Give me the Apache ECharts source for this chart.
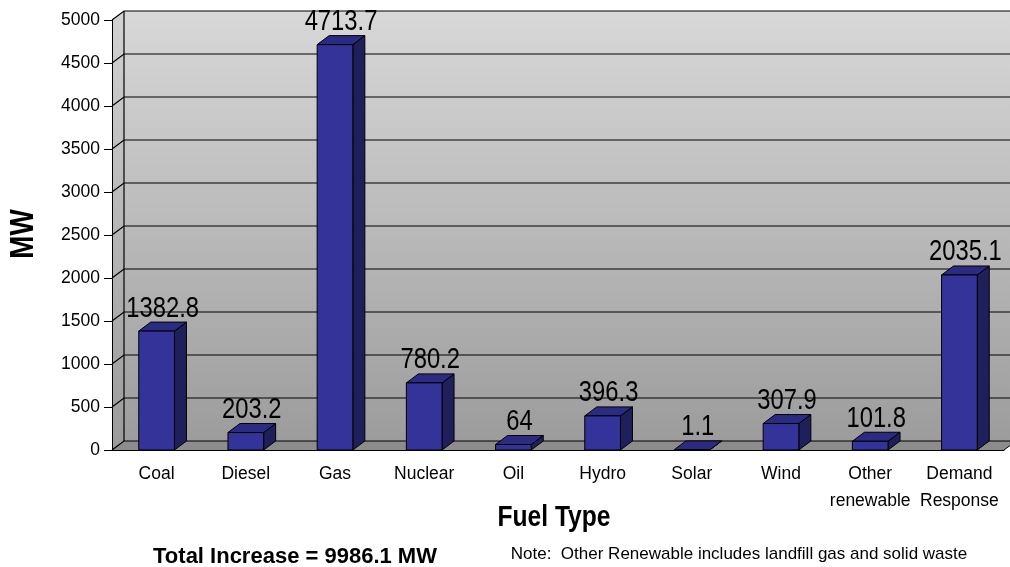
<!DOCTYPE html>
<html>
<head>
<meta charset="utf-8">
<script src="https://cdn.jsdelivr.net/npm/echarts@6/dist/echarts.min.js"></script>
<style>
  html, body { margin: 0; padding: 0; background: #fff; }
  #main { width: 1010px; height: 567px; }
</style>
</head>
<body>
<div id="main"></div>
<script>
// fuel types and capacity increase (MW)
const categories = ['Coal', 'Diesel', 'Gas', 'Nuclear', 'Oil', 'Hydro', 'Solar', 'Wind', 'Other\nrenewable', 'Demand\nResponse'];
const increaseMW = [1382.8, 203.2, 4713.7, 780.2, 64, 396.3, 1.1, 307.9, 101.8, 2035.1];
const yTicks = [0, 500, 1000, 1500, 2000, 2500, 3000, 3500, 4000, 4500, 5000];

const SANS = '"Liberation Sans", Arial, sans-serif';
const NARROW_X = 0.82; // squeeze Liberation Sans to look like Arial Narrow

// depth of the fake 3d box
const DX = 12, DY = -9;

const chart = echarts.init(document.getElementById('main'), null, { renderer: 'canvas' });

// walls, floor and gridlines
function renderFrame(params, api) {
  const cs = params.coordSys;
  const x = cs.x, y = cs.y, w = cs.width, h = cs.height;
  const children = [];
  children.push({
    type: 'rect',
    shape: { x: x + DX, y: y + DY, width: w, height: h },
    style: {
      fill: new echarts.graphic.LinearGradient(0, 0, 0, 1, [
        { offset: 0, color: '#d8d8d8' },
        { offset: 1, color: '#9c9c9c' }
      ])
    }
  });
  children.push({
    type: 'polygon',
    shape: { points: [[x, y], [x + DX, y + DY], [x + DX, y + h + DY], [x, y + h]] },
    style: {
      fill: new echarts.graphic.LinearGradient(0, 0, 0, 1, [
        { offset: 0, color: '#d2d2d2' },
        { offset: 1, color: '#9a9a9a' }
      ])
    }
  });
  children.push({
    type: 'polygon',
    shape: { points: [[x, y + h], [x + DX, y + h + DY], [x + w + DX, y + h + DY], [x + w, y + h]] },
    style: { fill: '#8c8c8c' }
  });
  yTicks.forEach(function (t) {
    const p = api.coord([0, t]);
    children.push({
      type: 'polyline',
      shape: { points: [[x, p[1]], [x + DX, p[1] + DY], [x + w + DX, p[1] + DY]] },
      style: { stroke: '#000', lineWidth: 1.2, fill: null }
    });
  });
  children.push({
    type: 'line',
    shape: { x1: x + DX, y1: y + DY, x2: x + DX, y2: y + h + DY },
    style: { stroke: '#000', lineWidth: 1.2 }
  });
  children.push({
    type: 'line',
    shape: { x1: x + w, y1: y + h, x2: x + w + DX, y2: y + h + DY },
    style: { stroke: '#000', lineWidth: 1 }
  });
  return { type: 'group', children: children };
}

function renderBar(params, api) {
  const idx = api.value(0);
  const v = api.value(1);
  const top = api.coord([idx, v]);
  const base = api.coord([idx, 0]);
  const band = api.size([1, 0])[0];
  const bw = band * 0.4;
  const x0 = top[0] - bw / 2, x1 = top[0] + bw / 2;
  const yT = top[1], yB = base[1];
  const edge = { stroke: '#000', lineWidth: 1, lineJoin: 'round' };
  return {
    type: 'group',
    children: [
      {
        type: 'polygon',
        shape: { points: [[x1, yT], [x1 + DX, yT + DY], [x1 + DX, yB + DY], [x1, yB]] },
        style: Object.assign({ fill: '#1f1f5c' }, edge)
      },
      {
        type: 'polygon',
        shape: { points: [[x0, yT], [x0 + DX, yT + DY], [x1 + DX, yT + DY], [x1, yT]] },
        style: Object.assign({ fill: '#2b2b82' }, edge)
      },
      {
        type: 'rect',
        shape: { x: x0, y: yT, width: bw, height: Math.max(yB - yT, 0.5) },
        style: Object.assign({ fill: '#333399' }, edge)
      },
      {
        type: 'text',
        x: top[0] + DX / 2,
        y: yT - 8,
        scaleX: NARROW_X,
        style: {
          text: String(v),
          font: '29px ' + SANS,
          fill: '#000',
          align: 'center',
          verticalAlign: 'bottom'
        }
      }
    ]
  };
}

const option = {
  animation: false,
  backgroundColor: '#fff',
  grid: { left: 112, right: 6, top: 20, bottom: 117 },
  xAxis: {
    type: 'category',
    data: categories,
    z: 5,
    axisLine: { lineStyle: { color: '#000', width: 1 } },
    axisTick: { length: 7, lineStyle: { color: '#000' } },
    axisLabel: {
      margin: 11,
      color: '#000',
      fontFamily: SANS,
      fontSize: 17.5,
      lineHeight: 27,
      interval: 0
    },
    splitLine: { show: false }
  },
  yAxis: {
    type: 'value',
    min: 0,
    max: 5000,
    interval: 500,
    z: 5,
    axisLine: { show: true, lineStyle: { color: '#000', width: 1 } },
    axisTick: { show: true, length: 8, lineStyle: { color: '#000' } },
    axisLabel: {
      margin: 12,
      color: '#000',
      fontFamily: SANS,
      fontSize: 17.5,
      formatter: function (v) { return String(v); }
    },
    splitLine: { show: false }
  },
  graphic: [
    {
      type: 'text', x: 24, y: 234, rotation: Math.PI / 2, scaleX: NARROW_X,
      style: { text: 'MW', font: 'bold 34px ' + SANS, fill: '#000', align: 'center', verticalAlign: 'middle' }
    },
    {
      type: 'text', x: 554, y: 518, scaleX: NARROW_X,
      style: { text: 'Fuel Type', font: 'bold 30px ' + SANS, fill: '#000', align: 'center', verticalAlign: 'middle' }
    },
    {
      type: 'text', x: 295, y: 557,
      style: { text: 'Total Increase = 9986.1 MW', font: 'bold 22px ' + SANS, fill: '#000', align: 'center', verticalAlign: 'middle' }
    },
    {
      type: 'text', x: 739, y: 554,
      style: { text: 'Note:  Other Renewable includes landfill gas and solid waste', font: '17px ' + SANS, fill: '#000', align: 'center', verticalAlign: 'middle' }
    }
  ],
  series: [
    {
      type: 'custom',
      name: 'frame',
      z: 1,
      silent: true,
      renderItem: renderFrame,
      data: [[0, 0]]
    },
    {
      type: 'custom',
      name: 'Increase',
      z: 3,
      renderItem: renderBar,
      encode: { x: 0, y: 1 },
      data: increaseMW.map(function (v, i) { return [i, v]; })
    }
  ]
};

chart.setOption(option);
</script>
</body>
</html>
